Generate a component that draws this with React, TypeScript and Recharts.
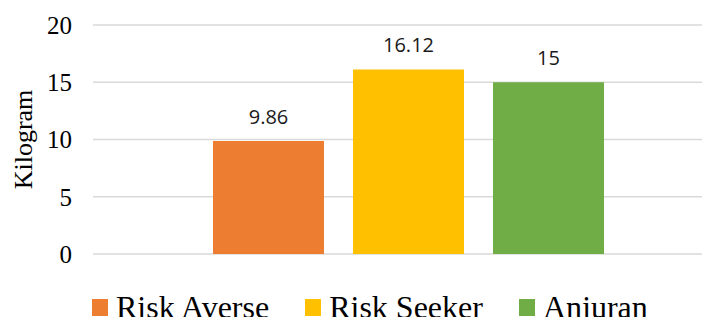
import React from 'react';
import {
    BarChart,
    Bar,
    XAxis,
    YAxis,
    CartesianGrid,
    Legend,
    LabelList,
} from 'recharts';

// series shown as one cluster of bars
const seriesNames = ['Risk Averse', 'Risk Seeker', 'Anjuran'];
const seriesValues = [9.86, 16.12, 15];
const seriesColors = ['#ED7D31', '#FFC000', '#70AD47'];
const yTicks = [0, 5, 10, 15, 20];
const axisTitle = 'Kilogram';

const serif = '"Liberation Serif", "Times New Roman", serif';
const sans = '"Open Sans", "Noto Sans", sans-serif';

const seriesKeys = seriesNames.map((_, i) => `s${i}`);

// one row holding every series value
const chartData = [
    seriesKeys.reduce(
        (row: any, key, i) => {
            row[key] = seriesValues[i];
            return row;
        },
        { group: '' }
    ),
];

const AxisTitle = (props: any) => {
    const vb = props.viewBox || { x: 0, y: 25, width: 93, height: 229 };
    const cx = 32;
    const cy = vb.y + vb.height / 2;
    return (
        <text
            x={cx}
            y={cy}
            textAnchor="middle"
            transform={`rotate(-90, ${cx}, ${cy})`}
            fontFamily={serif}
            fontSize={26}
            fill="#000"
        >
            {axisTitle}
        </text>
    );
};

const LegendContent = () => (
    <div
        style={{
            display: 'flex',
            alignItems: 'center',
            height: 36,
            lineHeight: '36px',
            paddingLeft: 92,
            fontFamily: serif,
            fontSize: 32,
            color: '#000',
            whiteSpace: 'nowrap',
        }}
    >
        {seriesNames.map((name, i) => (
            <div
                key={name}
                style={{ display: 'flex', alignItems: 'center', marginRight: 36 }}
            >
                <span
                    style={{
                        display: 'inline-block',
                        width: 16,
                        height: 17,
                        background: seriesColors[i],
                        marginRight: 8,
                    }}
                />
                <span>{name}</span>
            </div>
        ))}
    </div>
);

const App: React.FC = () => {
    return (
        <div style={{ margin: -8, width: 710, height: 325, overflow: 'hidden' }}>
            <BarChart
                width={723}
                height={325}
                data={chartData}
                margin={{ top: 25, right: 0, bottom: 0, left: 0 }}
                barGap={29}
            >
                <CartesianGrid vertical={false} stroke="#D9D9D9" strokeWidth={1.5} />
                <XAxis
                    dataKey="group"
                    height={35}
                    tick={false}
                    tickLine={false}
                    axisLine={false}
                />
                <YAxis
                    width={93}
                    domain={[0, 20]}
                    ticks={yTicks}
                    interval={0}
                    tickLine={false}
                    axisLine={false}
                    tickMargin={15}
                    tick={{ fontFamily: serif, fontSize: 25, fill: '#000' }}
                    label={<AxisTitle />}
                />
                <Legend
                    verticalAlign="bottom"
                    content={<LegendContent />}
                    wrapperStyle={{ left: 0, bottom: 0, width: 710 }}
                />
                {seriesKeys.map((key, i) => (
                    <Bar
                        key={key}
                        dataKey={key}
                        name={seriesNames[i]}
                        fill={seriesColors[i]}
                        barSize={111}
                        isAnimationActive={false}
                    >
                        <LabelList
                            dataKey={key}
                            position="top"
                            offset={17}
                            fontFamily={sans}
                            fontSize={20}
                            fill="#1a1a1a"
                        />
                    </Bar>
                ))}
            </BarChart>
        </div>
    );
};

export default App;
